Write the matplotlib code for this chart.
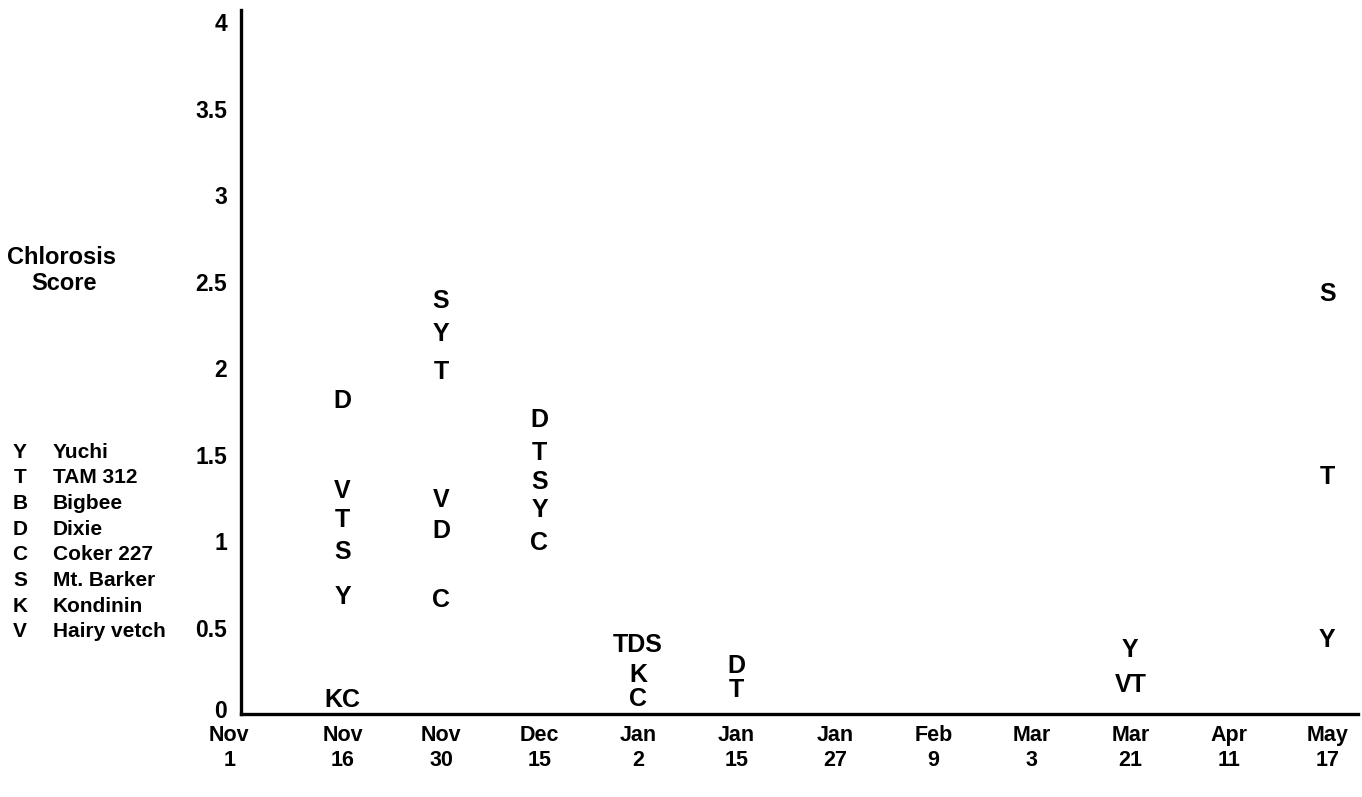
import matplotlib
matplotlib.use("Agg")
import matplotlib.pyplot as plt
import matplotlib.transforms as mtransforms

# Sampling dates (x-axis categories)
dates = ["Nov\n1", "Nov\n16", "Nov\n30", "Dec\n15", "Jan\n2", "Jan\n15",
         "Jan\n27", "Feb\n9", "Mar\n3", "Mar\n21", "Apr\n11", "May\n17"]

# Chlorosis scores per cultivar (None = not shown on that date)
hairy_vetch = [None, 1.29, 1.24, None, None, None, None, None, None, 0.17, None, None]
tam_312 = [None, 1.12, 1.98, 1.51, 0.40, 0.14, None, None, None, 0.17, None, 1.37]
dixie = [None, 1.81, 1.06, 1.70, 0.40, 0.28, None, None, None, None, None, None]
mt_barker = [None, 0.94, 2.39, 1.34, 0.40, None, None, None, None, None, None, 2.43]
kondinin = [None, 0.08, None, None, 0.225, None, None, None, None, None, None, None]
coker_227 = [None, 0.08, 0.66, 0.99, 0.09, None, None, None, None, None, None, None]
yuchi = [None, 0.68, 2.20, 1.18, None, None, None, None, None, 0.37, None, 0.43]
bigbee = [None] * 12

# Legend entries (letter, cultivar name)
legend_letters = ["Y", "T", "B", "D", "C", "S", "K", "V"]
legend_names = ["Yuchi", "TAM 312", "Bigbee", "Dixie", "Coker 227",
                "Mt. Barker", "Kondinin", "Hairy vetch"]

y_ticks = [0, 0.5, 1, 1.5, 2, 2.5, 3, 3.5, 4]
y_tick_labels = ["0", "0.5", "1", "1.5", "2", "2.5", "3", "3.5", "4"]

# Order in which letters sharing a score are written side by side
series = [("V", hairy_vetch), ("T", tam_312), ("D", dixie), ("S", mt_barker),
          ("K", kondinin), ("C", coker_227), ("Y", yuchi), ("B", bigbee)]

plt.rcParams['font.family'] = ['Liberation Sans', 'DejaVu Sans']
plt.rcParams['font.weight'] = 'bold'

fig = plt.figure(figsize=(13.62, 7.97), dpi=100)
ax = fig.add_axes([0.177, 0.104, 0.82, 0.883])

# Group letters by (date, score) so equal scores print as one word
groups = {}
for letter, values in series:
    for i, v in enumerate(values):
        if v is None:
            continue
        groups.setdefault((i, v), []).append(letter)

for (i, v), letters in groups.items():
    ax.text(i, v, "".join(letters), ha="center", va="center",
            fontsize=18, fontweight="bold")

ax.set_xticks([])
ax.set_xlim(-0.03, 11.31)
ax.set_ylim(0, 4.07)
ax.set_yticks(y_ticks)
ax.set_yticklabels(y_tick_labels, fontsize=16.5, fontweight="bold")
ax.tick_params(axis="y", length=0, pad=10)

# Lift the "0" a little so it clears the first date label
zero_label = ax.yaxis.get_major_ticks()[0].label1
zero_label.set_transform(zero_label.get_transform() +
                         mtransforms.ScaledTranslation(0, 4 / 72, fig.dpi_scale_trans))

# Date labels drawn as text so the first one can sit left of the y axis
first_label_shift = -0.15
trans = mtransforms.blended_transform_factory(ax.transData, ax.transAxes)
for i, lab in enumerate(dates):
    xpos = i + (first_label_shift if i == 0 else 0)
    ax.text(xpos, -0.016, lab, transform=trans, ha="center", va="top",
            fontsize=15.5, fontweight="bold", linespacing=1.2, clip_on=False)

for side in ["top", "right"]:
    ax.spines[side].set_visible(False)
for side in ["left", "bottom"]:
    ax.spines[side].set_linewidth(2.4)

# Y-axis title
fig.text(61 / 1362, 1 - 258 / 797, "Chlorosis", ha="center", va="center",
         fontsize=17, fontweight="bold")
fig.text(64 / 1362, 1 - 284 / 797, "Score", ha="center", va="center",
         fontsize=17, fontweight="bold")

# Legend key
for k, (letter, name) in enumerate(zip(legend_letters, legend_names)):
    y = 1 - (452 + 25.7 * k) / 797
    fig.text(20 / 1362, y, letter, ha="center", va="center",
             fontsize=15, fontweight="bold")
    fig.text(53 / 1362, y, name, ha="left", va="center",
             fontsize=15, fontweight="bold")

fig.savefig("out.png", dpi=100)
